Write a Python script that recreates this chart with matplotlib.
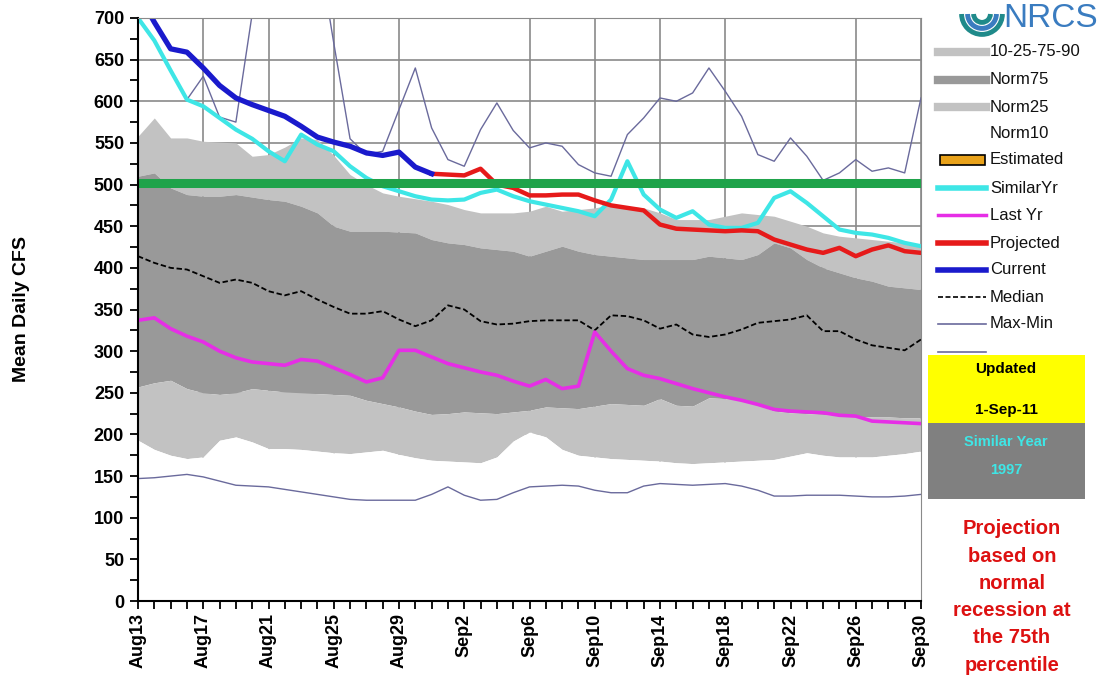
import matplotlib
matplotlib.use("Agg")
import matplotlib.pyplot as plt
from matplotlib.lines import Line2D
from matplotlib.patches import Rectangle, Arc
import numpy as np

# ---------------- data ----------------
day_labels = ["Aug13", "Aug17", "Aug21", "Aug25", "Aug29", "Sep2", "Sep6",
              "Sep10", "Sep14", "Sep18", "Sep22", "Sep26", "Sep30"]
n_days = 49
days = np.arange(n_days)

norm90 = [558, 580, 556, 556, 552, 551, 550, 534, 536, 545, 556, 554, 535, 512, 500, 490, 486,
          483, 480, 476, 470, 466, 466, 466, 468, 474, 468, 470, 472, 476, 474, 472, 466, 458,
          458, 458, 462, 466, 464, 462, 456, 450, 442, 438, 436, 434, 432, 430, 428]
norm75 = [510, 514, 496, 488, 486, 486, 488, 485, 482, 480, 474, 466, 450, 444, 444, 444, 443,
          442, 434, 430, 428, 424, 422, 420, 414, 420, 426, 420, 416, 414, 412, 410, 410, 410,
          410, 414, 412, 410, 416, 430, 424, 410, 400, 394, 388, 384, 378, 376, 374]
norm25 = [257, 262, 265, 255, 250, 248, 250, 255, 253, 251, 250, 249, 248, 247, 241, 237, 233,
          228, 224, 225, 227, 226, 225, 227, 229, 233, 232, 231, 234, 237, 236, 235, 243, 235,
          234, 244, 243, 241, 236, 228, 226, 225, 224, 223, 222, 221, 221, 220, 220]
norm10 = [193, 182, 175, 171, 173, 193, 197, 191, 183, 183, 182, 180, 178, 177, 179, 181, 176,
          172, 169, 168, 167, 166, 173, 192, 203, 197, 182, 175, 173, 171, 170, 169, 168, 166,
          165, 166, 167, 168, 169, 170, 174, 178, 175, 173, 173, 173, 175, 177, 180]
median = [414, 406, 400, 398, 390, 382, 386, 382, 372, 367, 372, 362, 353, 345, 345, 348, 338,
          330, 337, 355, 350, 336, 332, 333, 336, 337, 337, 337, 325, 343, 342, 337, 327, 332,
          320, 317, 320, 326, 334, 336, 338, 343, 324, 324, 314, 307, 304, 301, 314]
max_flow = [700, 673, 637, 602, 630, 581, 575, 705, 820, 880, 860, 790, 670, 555, 536, 540, 590,
            640, 568, 530, 522, 566, 598, 565, 544, 550, 546, 524, 514, 510, 560, 580, 604, 600,
            610, 640, 612, 582, 536, 528, 556, 534, 505, 514, 530, 516, 520, 514, 604]
min_flow = [147, 148, 150, 152, 149, 144, 139, 138, 137, 134, 131, 128, 125, 122, 121, 121, 121,
            121, 128, 137, 127, 121, 122, 130, 137, 138, 139, 138, 133, 130, 130, 138, 141, 140,
            139, 140, 141, 138, 133, 126, 126, 127, 127, 127, 126, 125, 125, 126, 128]
similar_yr = [700, 673, 637, 602, 594, 580, 566, 555, 540, 528, 560, 548, 540, 522, 508, 498, 492,
              486, 482, 481, 482, 490, 494, 486, 480, 476, 472, 468, 462, 482, 528, 488, 470, 460,
              468, 452, 448, 448, 454, 484, 492, 478, 462, 446, 442, 440, 436, 430, 426]
last_yr = [337, 340, 327, 318, 311, 300, 292, 287, 285, 283, 290, 288, 280, 272, 263, 268, 301,
           301, 293, 285, 280, 275, 271, 264, 258, 266, 255, 258, 323, 300, 279, 271, 267, 261,
           255, 250, 245, 241, 236, 230, 228, 227, 226, 223, 222, 216, 215, 214, 213]
current_days = list(range(0, 19))
current = [730, 695, 663, 659, 640, 619, 604, 596, 589, 582, 570, 557, 551, 546, 538, 535, 539,
           521, 513]
projected_days = list(range(18, 49))
projected = [513, 512, 511, 519, 500, 496, 487, 487, 488, 488, 481, 475, 472, 469, 452, 447, 446,
             445, 444, 445, 444, 434, 428, 422, 418, 424, 414, 422, 427, 420, 418]
target_flow = 502

legend_labels = ["10-25-75-90", "Norm75", "Norm25", "Norm10", "Estimated", "SimilarYr",
                 "Last Yr", "Projected", "Current", "Median", "Max-Min"]
updated_text = ["Updated", "1-Sep-11"]
similar_text = ["Similar Year", "1997"]
note_text = "Projection\nbased on\nnormal\nrecession at\nthe 75th\npercentile"

# ---------------- style ----------------
W, H = 1106, 687
LIGHT = "#c2c2c2"
DARK = "#999999"
GRID = "#8a8a8a"
CYAN = "#3ee6e6"
MAGENTA = "#e62ee6"
RED = "#e61a1a"
BLUE = "#1a1acc"
SLATE = "#6a6a9c"
GREEN = "#1fa34a"

plt.rcParams["font.family"] = ["Liberation Sans", "DejaVu Sans"]

fig = plt.figure(figsize=(W / 100, H / 100), dpi=100)
fig.patch.set_facecolor("white")
ax = fig.add_axes([138 / W, 1 - 601 / H, (921 - 138) / W, (601 - 18) / H])

def fx(px):
    return px / W

def fy(py):
    return 1 - py / H

# grid
for yv in range(50, 701, 50):
    ax.axhline(yv, color=GRID, lw=1.2, zorder=0)
for dv in [4, 8, 12, 16, 24, 28, 32, 36, 44, 48]:
    ax.axvline(dv, color=GRID, lw=1.2, zorder=0)

# bands
ax.fill_between(days, norm75, norm90, color=LIGHT, lw=0, zorder=1)
ax.fill_between(days, norm25, norm75, color=DARK, lw=0, zorder=1)
ax.fill_between(days, norm10, norm25, color=LIGHT, lw=0, zorder=1)
ax.fill_between(days, 0, norm10, color="white", lw=0, zorder=1)

# lines
ax.plot(days, max_flow, color=SLATE, lw=1.0, zorder=3)
ax.plot(days, min_flow, color=SLATE, lw=1.0, zorder=3)
ax.plot(days, median, color="black", lw=1.3, ls=(0, (3, 1.5)), zorder=3)
ax.plot(days, last_yr, color=MAGENTA, lw=2.6, zorder=4)
ax.plot(days, similar_yr, color=CYAN, lw=3.0, zorder=4)
ax.plot(projected_days, projected, color=RED, lw=3.2, zorder=5)
ax.plot(current_days, current, color=BLUE, lw=3.8, zorder=5)
ax.axhline(target_flow, color=GREEN, lw=6.5, zorder=6)

ax.set_xlim(0, 48)
ax.set_ylim(0, 700)

ax.set_yticks(range(0, 701, 50))
ax.set_yticks(range(0, 701, 25), minor=True)
ax.set_xticks(range(0, 49, 4))
ax.set_xticks(range(0, 49), minor=True)
ax.set_xticklabels(day_labels, rotation=90, fontsize=13, fontweight="bold")
for lab in ax.get_yticklabels():
    lab.set_fontsize(13)
    lab.set_fontweight("bold")
ax.tick_params(axis="both", which="both", direction="out", length=6, width=1.3, color="black")
ax.tick_params(axis="x", which="major", pad=3)
ax.tick_params(axis="y", which="major", pad=4)

ax.spines["left"].set_color("black")
ax.spines["left"].set_linewidth(1.5)
ax.spines["bottom"].set_color("black")
ax.spines["bottom"].set_linewidth(1.5)
ax.spines["top"].set_color(GRID)
ax.spines["right"].set_color(GRID)
for s in ("left", "bottom", "top", "right"):
    ax.spines[s].set_zorder(7)

ax.set_ylabel("Mean Daily CFS", fontsize=14, fontweight="bold", labelpad=46)

# ---------------- legend (manual) ----------------
rows_y = [52, 80, 107, 133, 160, 188, 215, 243, 270, 297, 324]
handle_styles = [
    dict(color=LIGHT, lw=6),
    dict(color=DARK, lw=6),
    dict(color=LIGHT, lw=6),
    dict(color="white", lw=6),
    None,
    dict(color=CYAN, lw=4),
    dict(color=MAGENTA, lw=2.5),
    dict(color=RED, lw=4),
    dict(color=BLUE, lw=4),
    dict(color="black", lw=1.2, ls=(0, (3, 1.5))),
    dict(color=SLATE, lw=1.2),
]
for lab, yy, st in zip(legend_labels, rows_y, handle_styles):
    if st is None:
        fig.add_artist(Rectangle((fx(940), fy(yy + 5)), fx(985) - fx(940), fy(yy - 5) - fy(yy + 5),
                                 transform=fig.transFigure, facecolor="#e9a21a",
                                 edgecolor="black", lw=1.2))
    else:
        fig.add_artist(Line2D([fx(938), fx(986)], [fy(yy), fy(yy)], transform=fig.transFigure, **st))
    fig.text(fx(990), fy(yy), lab, fontsize=12, va="center", ha="left", color="#111111")
fig.add_artist(Line2D([fx(938), fx(986)], [fy(352), fy(352)], transform=fig.transFigure,
                      color=SLATE, lw=1.2))

# yellow / gray boxes
fig.add_artist(Rectangle((fx(928), fy(423)), fx(1085) - fx(928), fy(355) - fy(423),
                         transform=fig.transFigure, facecolor="#ffff00", edgecolor="none"))
fig.add_artist(Rectangle((fx(928), fy(499)), fx(1085) - fx(928), fy(423) - fy(499),
                         transform=fig.transFigure, facecolor="#808080", edgecolor="none"))
fig.text(fx(1006), fy(369), updated_text[0], fontsize=11, fontweight="bold", ha="center", va="center")
fig.text(fx(1006), fy(410), updated_text[1], fontsize=11, fontweight="bold", ha="center", va="center")
fig.text(fx(1006), fy(442), similar_text[0], fontsize=10.5, fontweight="bold", ha="center", va="center",
         color=CYAN)
fig.text(fx(1006), fy(470), similar_text[1], fontsize=10.5, fontweight="bold", ha="center", va="center",
         color=CYAN)

fig.text(fx(1012), fy(597), note_text, fontsize=14.5, fontweight="bold", ha="center", va="center",
         color="#dd1111", linespacing=1.55)

# NRCS logo
fig.text(fx(1003), fy(3), "NRCS", fontsize=24, color="#3a7cc0", ha="left", va="top")
for r, c in [(34, "#1f8a8a"), (24, "#3a7cc0"), (14, "#1f8a8a")]:
    fig.add_artist(Arc((fx(982), fy(14)), r / W * 1.2, r / H * 1.2, theta1=180, theta2=360,
                       transform=fig.transFigure, color=c, lw=3.5))

fig.savefig("out.png", dpi=100, facecolor="white")
